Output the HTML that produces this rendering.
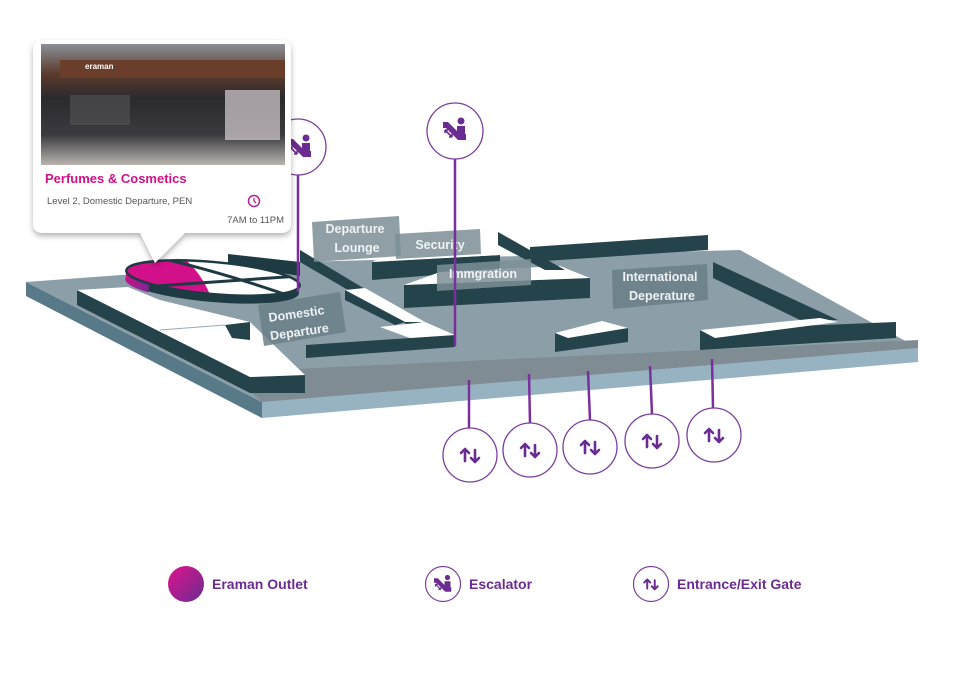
<!DOCTYPE html>
<html><head><meta charset="utf-8"><style>
body{margin:0;background:#fff;width:977px;height:689px;overflow:hidden;font-family:"Liberation Sans",sans-serif}
</style></head><body>
<svg width="977" height="689" viewBox="0 0 977 689" xmlns="http://www.w3.org/2000/svg">
<defs>
<linearGradient id="mg" x1="0" y1="0" x2="1" y2="1"><stop offset="0" stop-color="#e0138c"/><stop offset="1" stop-color="#6a2c91"/></linearGradient>
<linearGradient id="mg2" x1="0" y1="0" x2="1" y2="0"><stop offset="0" stop-color="#c8108a"/><stop offset="1" stop-color="#7a2a95"/></linearGradient>
<linearGradient id="ph" x1="0" y1="0" x2="0" y2="1"><stop offset="0" stop-color="#8a8f96"/><stop offset="0.25" stop-color="#5a3a2a"/><stop offset="0.45" stop-color="#2a2a2e"/><stop offset="0.75" stop-color="#3a3a40"/><stop offset="1" stop-color="#b8b4ae"/></linearGradient>
<clipPath id="ov"><ellipse cx="213" cy="278" rx="87" ry="16"/></clipPath>
<filter id="sh" x="-10%" y="-10%" width="120%" height="130%"><feDropShadow dx="0" dy="3" stdDeviation="3" flood-color="#000" flood-opacity="0.3"/></filter>
<g id="gate"><path d="M-5,6 V-6 M-9,-2 L-5,-6 L-1,-2 M5,-5 V7 M1,3 L5,7 L9,3" stroke="#6a2c91" stroke-width="2.6" fill="none" stroke-linecap="round" stroke-linejoin="round"/></g>
<g id="esc"><path d="M-12,-9 L-7,-9 L5,3 L11,3 L11,9 L3,9 L-9,-3 L-12,-3Z" fill="#6a2c91"/><circle cx="6" cy="-10" r="3.5" fill="#6a2c91"/><path d="M2,-5 h8 v9 h-8z" fill="#6a2c91"/><path d="M-10,-1 L-3,6 M-10,-1 v3 M-10,-1 h3 M-3,6 h-3 M-3,6 v-3" stroke="#6a2c91" stroke-width="1.6" fill="none"/></g>
</defs>
<!-- floor -->
<polygon points="26,282 26,296 262,418 262,402" fill="#587a88"/>
<polygon points="262,402 918,348 918,362 262,418" fill="#97b3c2"/>
<polygon points="26,282 300,262 740,250 918,348 262,402" fill="#8c9fa8"/>
<polygon points="230,372 918,340 918,348 262,402" fill="#7f8c94"/>
<!-- oval bulge -->
<polygon points="228,254 300,262 300,276 250,268 228,268" fill="#1e3a42"/>
<g transform="rotate(5 213 278)">
<ellipse cx="213" cy="286" rx="87" ry="16" fill="#1e3a42"/>
<path d="M126,278 V286 A87,16 0 0 0 150,298 V290Z" fill="url(#mg2)"/>
<ellipse cx="213" cy="278" rx="87" ry="16" fill="#fff"/>
<g clip-path="url(#ov)">
<path d="M120,255 L178,258 Q200,272 212,296 L120,300Z" fill="#d2108a"/>
<path d="M160,263 Q225,272 302,292" stroke="#1e3a42" stroke-width="3" fill="none"/>
<path d="M150,292 Q225,280 302,268" stroke="#1e3a42" stroke-width="3" fill="none"/>
</g>
<ellipse cx="213" cy="278" rx="87" ry="16" fill="none" stroke="#1e3a42" stroke-width="2.5"/>
</g>
<!-- left white block -->
<polygon points="77,290 77,305 250,393 305,393 305,375 250,377" fill="#24434b"/>
<polygon points="77,290 128,287 160,300 250,322 305,375 250,377" fill="#fff"/>
<polygon points="225,325 250,322 250,340 232,338" fill="#24434b"/>
<line x1="160" y1="330" x2="225" y2="325" stroke="#9aaab2" stroke-width="1"/>
<!-- central walls -->
<polygon points="300,250 420,322 420,332 300,262" fill="#24434b"/>
<polygon points="345,290 405,322 425,322 365,288" fill="#fff"/>
<polygon points="345,290 345,300 395,325 405,322" fill="#24434b"/>
<polygon points="306,345 455,335 455,347 306,358" fill="#24434b"/>
<polygon points="380,327 425,322 455,335 410,338" fill="#fff"/>
<!-- security block -->
<polygon points="372,262 372,280 500,270 500,255" fill="#24434b"/>
<polygon points="372,262 400,248 480,243 500,255" fill="#fff"/>
<!-- immigration -->
<polygon points="404,285 404,308 590,298 590,278" fill="#24434b"/>
<polygon points="404,285 440,272 560,266 590,278" fill="#fff"/>
<polygon points="498,232 498,245 545,270 565,270" fill="#24434b"/>
<!-- back walls -->
<polygon points="530,247 708,235 708,250 530,262" fill="#24434b"/>
<polygon points="713,262 713,278 800,320 838,320" fill="#24434b"/>
<polygon points="700,330 700,350 896,338 896,322" fill="#24434b"/>
<polygon points="700,330 820,318 838,322 715,338" fill="#fff"/>
<polygon points="555,333 555,352 628,342 628,328" fill="#24434b"/>
<polygon points="555,333 602,321 628,328 568,338" fill="#fff"/>
<!-- labels -->
<g font-family="Liberation Sans,sans-serif" font-weight="bold" fill="#eef2f4" font-size="12.5" text-anchor="middle">
<polygon points="258,305 340,292 346,332 264,346" fill="#6b7f88" opacity="0.85"/>
<text x="297" y="318" transform="rotate(-8 297 318)">Domestic</text>
<text x="300" y="336" transform="rotate(-8 300 336)">Departure</text>
<polygon points="312,222 399,216 401,256 314,262" fill="#7d8e96" opacity="0.85"/>
<text x="355" y="233">Departure</text>
<text x="357" y="252">Lounge</text>
<polygon points="395,234 480,229 481,254 396,259" fill="#7d8e96" opacity="0.85"/>
<text x="440" y="249">Security</text>
<polygon points="437,265 531,259 531,285 437,291" fill="#7d8e96" opacity="0.85"/>
<text x="483" y="278">Immgration</text>
<polygon points="612,270 707,264 708,300 613,309" fill="#6b7f88" opacity="0.9"/>
<text x="660" y="281">International</text>
<text x="662" y="300">Deperature</text>
</g>
<!-- pins -->
<g stroke="#7b2f9c" stroke-width="2.5">
<line x1="298" y1="170" x2="298" y2="292"/><line x1="455" y1="159" x2="455" y2="346"/>
<line x1="469" y1="380" x2="469" y2="428"/><line x1="529" y1="374" x2="530" y2="423"/>
<line x1="588" y1="371" x2="590" y2="420"/><line x1="650" y1="366" x2="652" y2="414"/>
<line x1="712" y1="359" x2="713" y2="408"/>
</g>
<g fill="#fff" stroke="#7b3f9c" stroke-width="1.3">
<circle cx="298" cy="147" r="28"/><circle cx="455" cy="131" r="28"/>
<circle cx="470" cy="455" r="27"/><circle cx="530" cy="450" r="27"/><circle cx="590" cy="447" r="27"/><circle cx="652" cy="441" r="27"/><circle cx="714" cy="435" r="27"/>
</g>
<use href="#esc" x="300" y="148"/><use href="#esc" x="455" y="131"/>
<use href="#gate" x="470" y="455"/><use href="#gate" x="530" y="450"/><use href="#gate" x="590" y="447"/><use href="#gate" x="652" y="441"/><use href="#gate" x="714" y="435"/>
<!-- callout -->
<g filter="url(#sh)">
<path d="M43,40 H281 Q291,40 291,50 V223 Q291,233 281,233 H185 L155,263 L140,233 H43 Q33,233 33,223 V50 Q33,40 43,40Z" fill="#fff"/>
</g>
<rect x="41" y="44" width="244" height="121" fill="url(#ph)"/>
<rect x="60" y="60" width="225" height="18" fill="#6a3e2a"/>
<rect x="70" y="95" width="60" height="30" fill="#555" opacity="0.6"/>
<rect x="225" y="90" width="55" height="50" fill="#d8d0d4" opacity="0.7"/>
<text x="85" y="69" font-size="8" fill="#fff" font-weight="bold">eraman</text>
<text x="45" y="183" font-size="13" font-weight="bold" fill="#d2108a">Perfumes &amp; Cosmetics</text>
<text x="47" y="204" font-size="9.5" fill="#555">Level 2, Domestic Departure, PEN</text>
<circle cx="254" cy="201" r="5.5" fill="none" stroke="#b0208f" stroke-width="1.5"/>
<path d="M254,198 V201 L256,203" stroke="#b0208f" stroke-width="1.3" fill="none"/>
<text x="284" y="223" font-size="9.5" fill="#555" text-anchor="end">7AM to 11PM</text>
<!-- legend -->
<circle cx="186" cy="584" r="18" fill="url(#mg)"/>
<text x="212" y="589" font-size="14" font-weight="bold" fill="#6a2c91">Eraman Outlet</text>
<circle cx="443" cy="584" r="17.5" fill="#fff" stroke="#7b3f9c" stroke-width="1.2"/>
<use href="#esc" transform="translate(443 585) scale(0.75)"/>
<text x="469" y="589" font-size="14" font-weight="bold" fill="#6a2c91">Escalator</text>
<circle cx="651" cy="584" r="17.5" fill="#fff" stroke="#7b3f9c" stroke-width="1.2"/>
<use href="#gate" transform="translate(651 584) scale(0.75)"/>
<text x="677" y="589" font-size="14" font-weight="bold" fill="#6a2c91">Entrance/Exit Gate</text>
</svg>
</body></html>
